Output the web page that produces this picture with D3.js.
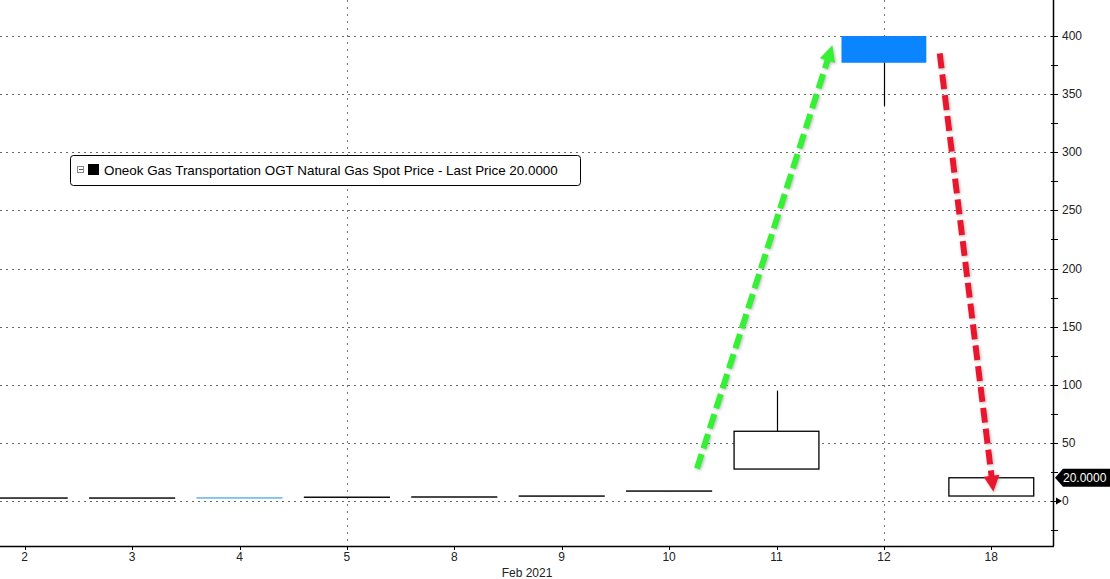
<!DOCTYPE html>
<html>
<head>
<meta charset="utf-8">
<script src="https://cdn.jsdelivr.net/npm/d3@7"></script>
<style>
  body { margin: 0; background: #fff; }
  svg { display: block; }
</style>
</head>
<body>
<script>
// categorii (zile Feb 2021)
const days = ["2", "3", "4", "5", "8", "9", "10", "11", "12", "18"];
// valori OHLC
const opens  = [2.5, 2.5, 2.7, 3.2, 3.4, 4.2, 8.5, 27.5, 400, 4.3];
const closes = [2.6, 2.6, 2.6, 3.3, 3.5, 4.3, 8.6, 60, 377, 20];
const highs  = [2.6, 2.6, 2.7, 3.3, 3.5, 4.3, 8.6, 95, 400, 20];
const lows   = [2.5, 2.5, 2.6, 3.2, 3.4, 4.2, 8.5, 27.5, 340, 4.3];
const yTicks = [0, 50, 100, 150, 200, 250, 300, 350, 400];
const yMinor = [-25, 25, 75, 125, 175, 225, 275, 325, 375];
const gridDays = ["5", "12"];
const lastPrice = 20;
const legendText = "Oneok Gas Transportation OGT Natural Gas Spot Price - Last Price 20.0000";
// sageti: [zi, decalaj in pas, valoare]
const greenArrow = [["10", 0.26, 28], ["12", -0.48, 392]];
const redArrow = [["12", 0.52, 385], ["18", 0.02, 8]];

const W = 1110, H = 579;
const axisX = 1053, axisY = 546;

const svg = d3.select("body").append("svg")
  .attr("width", W)
  .attr("height", H);

const x = d3.scaleBand().domain(days).range([-29, 1045]).padding(0);
const y = d3.scaleLinear().domain([-38.7, 431]).range([axisY, 0]);
const bw = x.bandwidth() * 0.79;
const cx = d => x(d) + x.bandwidth() / 2;

// grila orizontala
svg.append("g").selectAll("line").data(yTicks).join("line")
  .attr("x1", 0).attr("x2", axisX)
  .attr("y1", d => Math.round(y(d)) + 0.5).attr("y2", d => Math.round(y(d)) + 0.5)
  .attr("stroke", "#666").attr("stroke-width", 1)
  .attr("stroke-dasharray", "2,4");

// grila verticala
svg.append("g").selectAll("line").data(gridDays).join("line")
  .attr("x1", d => Math.round(cx(d)) + 0.5).attr("x2", d => Math.round(cx(d)) + 0.5)
  .attr("y1", 0).attr("y2", axisY)
  .attr("stroke", "#777").attr("stroke-width", 1)
  .attr("stroke-dasharray", "2,5");

// lumanari
const candles = days.map((d, i) => ({ d, o: opens[i], c: closes[i], h: highs[i], l: lows[i] }));
const cg = svg.append("g");
cg.selectAll("line.wick").data(candles).join("line")
  .attr("class", "wick")
  .attr("x1", d => Math.round(cx(d.d)) + 0.5).attr("x2", d => Math.round(cx(d.d)) + 0.5)
  .attr("y1", d => y(d.h)).attr("y2", d => y(d.l))
  .attr("stroke", "#000").attr("stroke-width", 1.2);
cg.selectAll("rect").data(candles).join("rect")
  .attr("x", d => cx(d.d) - bw / 2)
  .attr("width", bw)
  .attr("y", d => y(Math.max(d.o, d.c)))
  .attr("height", d => Math.max(0.1, Math.abs(y(d.o) - y(d.c))))
  .attr("fill", d => d.c >= d.o ? "#fff" : (Math.abs(d.o - d.c) < 1 ? "none" : "#0a84ff"))
  .attr("stroke", d => d.c >= d.o ? "#000" : (Math.abs(d.o - d.c) < 1 ? "#5ab0e8" : "none"))
  .attr("stroke-width", 1.3);

// axa din dreapta
svg.append("line")
  .attr("x1", axisX + 0.5).attr("x2", axisX + 0.5)
  .attr("y1", 0).attr("y2", axisY)
  .attr("stroke", "#000").attr("stroke-width", 1.5);
svg.append("g").selectAll("line").data(yTicks.concat(yMinor)).join("line")
  .attr("x1", axisX - 2).attr("x2", axisX + 5)
  .attr("y1", d => Math.round(y(d)) + 0.5).attr("y2", d => Math.round(y(d)) + 0.5)
  .attr("stroke", "#000").attr("stroke-width", 1);
svg.append("g").selectAll("text").data(yTicks).join("text")
  .attr("x", 1062).attr("y", d => y(d) + 4)
  .text(d => d)
  .style("font-family", "Liberation Sans, Arial, sans-serif")
  .style("font-size", "12px")
  .style("fill", "#222");
// sageata mica la 0
svg.append("path")
  .attr("d", `M${axisX + 3},${y(0) - 3.5} L${axisX + 9},${y(0)} L${axisX + 3},${y(0) + 3.5} Z`)
  .attr("fill", "#000");

// eticheta ultimului pret
const ly = y(lastPrice);
svg.append("path")
  .attr("d", `M${axisX + 2},${ly} L${axisX + 10},${ly - 9} L${W},${ly - 9} L${W},${ly + 9} L${axisX + 10},${ly + 9} Z`)
  .attr("fill", "#000");
svg.append("text")
  .attr("x", axisX + 10).attr("y", ly + 4.5)
  .text(lastPrice.toFixed(4))
  .style("font-family", "Liberation Sans, Arial, sans-serif")
  .style("font-size", "12px")
  .style("fill", "#fff");

// axa de jos
svg.append("line")
  .attr("x1", 0).attr("x2", axisX + 1)
  .attr("y1", axisY + 0.5).attr("y2", axisY + 0.5)
  .attr("stroke", "#000").attr("stroke-width", 1.5);
svg.append("g").selectAll("line").data(days).join("line")
  .attr("x1", d => Math.round(cx(d)) + 0.5).attr("x2", d => Math.round(cx(d)) + 0.5)
  .attr("y1", axisY).attr("y2", axisY + 4)
  .attr("stroke", "#000");
svg.append("g").selectAll("text").data(days).join("text")
  .attr("x", d => cx(d)).attr("y", 561)
  .attr("text-anchor", "middle")
  .text(d => d)
  .style("font-family", "Liberation Sans, Arial, sans-serif")
  .style("font-size", "12px")
  .style("fill", "#222");
svg.append("text")
  .attr("x", 527).attr("y", 577)
  .attr("text-anchor", "middle")
  .text("Feb 2021")
  .style("font-family", "Liberation Sans, Arial, sans-serif")
  .style("font-size", "12px")
  .style("fill", "#222");

// legenda
const lg = svg.append("g");
lg.append("rect")
  .attr("x", 70.5).attr("y", 155.5).attr("width", 510).attr("height", 30)
  .attr("rx", 3).attr("fill", "#fff").attr("stroke", "#000").attr("stroke-width", 1);
lg.append("rect")
  .attr("x", 77.5).attr("y", 166.5).attr("width", 6).attr("height", 6)
  .attr("fill", "#fff").attr("stroke", "#888");
lg.append("line")
  .attr("x1", 79).attr("x2", 83).attr("y1", 169.5).attr("y2", 169.5).attr("stroke", "#555");
lg.append("rect")
  .attr("x", 88).attr("y", 164).attr("width", 11).attr("height", 11).attr("fill", "#000");
lg.append("text")
  .attr("x", 104).attr("y", 175)
  .text(legendText)
  .style("font-family", "Liberation Sans, Arial, sans-serif")
  .style("font-size", "13.4px")
  .style("fill", "#000");

// sageti punctate
const defs = svg.append("defs");
defs.append("filter").attr("id", "shadow")
  .attr("x", "-20%").attr("y", "-20%").attr("width", "140%").attr("height", "140%")
  .append("feDropShadow")
  .attr("dx", 1).attr("dy", 1).attr("stdDeviation", 1.5)
  .attr("flood-color", "#888").attr("flood-opacity", 0.6);

function arrow(pts, color) {
  const [p0, p1] = pts.map(p => [cx(p[0]) + p[1] * x.step(), y(p[2])]);
  const dx = p1[0] - p0[0], dy = p1[1] - p0[1];
  const len = Math.hypot(dx, dy);
  const ux = dx / len, uy = dy / len;
  const headL = 16, headW = 8;
  const base = [p1[0] - ux * headL, p1[1] - uy * headL];
  const g = svg.append("g").attr("filter", "url(#shadow)");
  g.append("line")
    .attr("x1", p0[0]).attr("y1", p0[1])
    .attr("x2", base[0] + ux * 2).attr("y2", base[1] + uy * 2)
    .attr("stroke", color).attr("stroke-width", 6)
    .attr("stroke-dasharray", "15,6");
  g.append("path")
    .attr("d", `M${p1[0]},${p1[1]} L${base[0] - uy * headW},${base[1] + ux * headW} L${base[0] + uy * headW},${base[1] - ux * headW} Z`)
    .attr("fill", color);
}
arrow(greenArrow, "#35f035");
arrow(redArrow, "#e8182e");
</script>
</body>
</html>
